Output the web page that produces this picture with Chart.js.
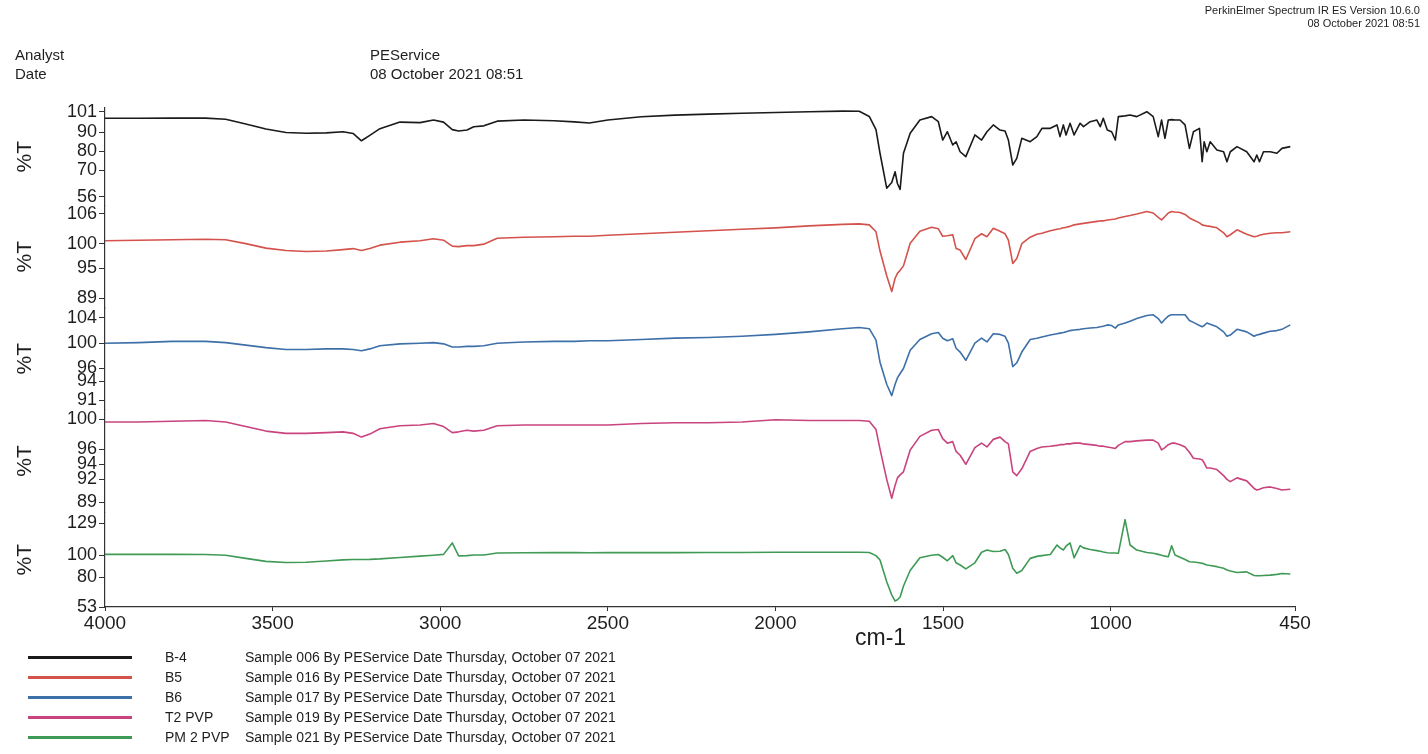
<!DOCTYPE html>
<html>
<head>
<meta charset="utf-8">
<title>PerkinElmer Spectrum IR</title>
<script src="https://cdn.jsdelivr.net/npm/chart.js@4.4.0/dist/chart.umd.min.js"></script>
<style>
body{margin:0;background:#fff;font-family:"Liberation Sans",Arial,sans-serif;color:#1e1e1e;}
#wrap{position:relative;width:1428px;height:754px;overflow:hidden;}
#chart{position:absolute;left:0;top:0;}
.t{position:absolute;white-space:nowrap;line-height:18px;}
.hd{font-size:15px;}
.pe{font-size:11px;line-height:13px;text-align:right;right:8px;}
.cm{font-size:23px;}
.lg{position:absolute;left:0;height:20px;font-size:14px;}
.lg span{position:absolute;top:0;line-height:20px;white-space:nowrap;}
.lg i{position:absolute;left:28px;width:104px;top:9px;height:3px;}
</style>
</head>
<body>
<div id="wrap">
  <canvas id="chart" width="1428" height="754"></canvas>
  <div class="t pe" style="top:4px">PerkinElmer Spectrum IR ES Version 10.6.0<br>08 October 2021 08:51</div>
  <div class="t hd" style="left:15px;top:46px">Analyst</div>
  <div class="t hd" style="left:15px;top:65px">Date</div>
  <div class="t hd" style="left:370px;top:46px">PEService</div>
  <div class="t hd" style="left:370px;top:65px">08 October 2021 08:51</div>
  <div class="t cm" style="left:855px;top:628px">cm-1</div>
  <div id="legend"></div>
</div>
<script>
// Dados
const wavenumbers=[4000,3900,3800,3700,3640,3580,3520,3460,3400,3340,3290,3260,3235,3210,3180,3120,3060,3020,2990,2964,
2945,2920,2900,2870,2830,2750,2660,2600,2555,2500,2400,2300,2200,2100,2000,1900,1800,1750,1720,1700,
1688,1668,1653,1643,1636,1628,1618,1598,
1569,1534,1514,1501,1487,1471,1461,1449,1432,1405,1385,1369,1350,
1330,1315,1305,1292,1280,1265,1240,1220,1205,1180,
1160,1151,1141,1133,1121,1109,1091,1081,1061,1041,
1031,1022,1010,997,986,977,957,942,922,892,
873,858,848,838,828,818,808,793,778,765,
753,735,727,721,713,703,683,663,653,643,
623,594,572,564,556,544,524,504,489,464];

const b4=[97.5,97.5,97.6,97.6,97.0,94.5,91.8,90.0,89.6,89.8,
90.4,89.5,85.6,88.5,92.0,95.5,95.2,96.6,95.5,91.5,
90.8,91.3,93.0,93.5,96.0,96.6,96.2,95.6,95.0,96.6,
98.3,99.2,99.7,100.2,100.6,101.0,101.3,101.2,98.5,91.5,
79.0,60.5,63.5,69.2,63.0,59.9,79.0,89.6,
96.6,98.4,95.7,86.0,90.4,83.4,85.1,79.8,77.2,88.7,86.0,90.4,94.0,
91.3,90.8,86.0,72.8,76.3,86.9,85.1,87.8,92.2,92.2,
94.0,87.8,94.0,88.7,94.9,88.7,94.9,93.1,95.7,96.6,
93.1,97.5,91.3,90.4,86.0,98.4,98.8,99.3,98.4,101.0,
98.4,87.8,96.6,86.9,96.6,96.8,96.6,96.6,94.0,81.6,
90.4,92.2,74.5,85.1,79.8,85.1,80.7,79.8,74.5,79.8,
82.5,79.8,74.5,78.1,74.5,79.8,79.8,79.0,81.6,82.5];

const b5=[100.6,100.7,100.8,100.9,100.8,100.0,99.1,98.6,98.4,98.5,
98.8,99.0,98.6,99.0,99.7,100.3,100.6,101.0,100.7,99.5,
99.4,99.6,99.6,99.9,101.1,101.3,101.4,101.5,101.5,101.7,
102.0,102.3,102.6,102.9,103.2,103.6,103.9,104.0,103.8,102.4,
98.5,93.5,90.3,93.0,94.0,94.6,95.5,100.1,
102.5,103.3,103.0,101.5,101.6,101.8,99.0,98.7,96.8,101.0,102.0,101.4,103.1,
102.5,102.0,100.7,96.0,97.0,100.0,101.3,101.9,102.1,102.6,
102.9,103.0,103.2,103.3,103.5,103.8,104.0,104.1,104.3,104.5,
104.6,104.6,104.8,104.9,105.0,105.2,105.5,105.7,106.0,106.5,
106.2,105.3,104.8,105.5,106.2,106.5,106.4,106.3,105.9,105.2,
104.8,104.2,103.8,103.7,103.6,103.5,103.2,102.2,101.4,101.8,
102.8,101.9,101.4,101.5,101.7,101.9,102.1,102.2,102.2,102.4];

const b6=[100.0,100.1,100.3,100.3,100.1,99.7,99.3,99.0,99.0,99.1,
99.1,99.0,98.8,99.1,99.6,99.9,100.0,100.1,99.9,99.4,
99.4,99.5,99.5,99.6,100.0,100.2,100.3,100.3,100.4,100.4,
100.6,100.8,100.9,101.1,101.4,101.8,102.3,102.5,102.3,100.5,
97.0,93.5,91.7,93.5,94.5,95.2,96.0,98.9,
100.6,101.5,101.7,100.8,100.4,100.7,99.2,98.6,97.3,100.0,100.8,100.2,101.5,
101.4,101.1,100.0,96.3,96.9,98.6,100.6,100.8,101.0,101.3,
101.5,101.6,101.7,101.8,102.0,102.1,102.2,102.3,102.4,102.5,
102.6,102.7,102.9,102.8,102.4,102.9,103.2,103.5,103.9,104.4,
104.5,103.9,103.2,103.8,104.3,104.5,104.5,104.5,104.5,103.6,
103.3,102.8,102.6,102.8,103.2,103.0,102.6,101.8,101.1,101.3,
102.2,101.8,101.1,101.3,101.4,101.6,101.9,102.0,102.2,102.9];

const t2pvp=[99.6,99.6,99.7,99.8,99.6,99.0,98.4,98.1,98.1,98.2,
98.3,98.1,97.6,98.0,98.7,99.1,99.2,99.4,99.0,98.2,
98.3,98.5,98.4,98.5,99.1,99.2,99.2,99.2,99.2,99.2,
99.4,99.5,99.5,99.6,99.9,99.8,99.8,99.8,99.7,98.6,
96.0,92.0,89.5,91.2,92.2,92.6,93.0,95.9,
97.7,98.5,98.6,97.4,96.8,97.0,95.7,95.2,94.0,96.2,96.8,96.3,97.3,
97.6,97.0,96.7,93.0,92.5,93.4,95.7,96.1,96.3,96.4,
96.5,96.6,96.6,96.7,96.7,96.8,96.8,96.7,96.6,96.5,
96.4,96.4,96.3,96.2,96.1,96.5,97.0,97.0,97.1,97.2,
97.2,96.8,95.9,96.2,96.6,96.8,96.8,96.6,96.3,95.6,
94.8,94.7,94.6,94.2,93.5,93.5,93.3,92.5,92.0,91.7,
92.2,91.8,90.8,90.6,90.7,90.9,91.0,90.8,90.6,90.7];

const pm2pvp=[100.6,100.6,100.6,100.5,99.8,97.0,94.3,93.2,93.5,94.6,
95.6,96.0,96.0,96.1,96.5,97.8,99.0,99.8,100.6,111.0,
99.3,99.5,100.0,100.0,101.8,102.1,102.2,102.2,102.1,102.2,
102.2,102.2,102.3,102.3,102.5,102.5,102.6,102.6,102.3,99.5,
95.5,75.9,64.0,58.4,59.5,62.0,72.0,86.0,
97.5,99.8,100.5,98.0,94.8,99.5,93.0,91.0,87.5,93.0,102.5,104.6,103.2,
103.5,105.0,100.5,88.0,83.5,86.0,97.0,98.8,99.5,100.5,
109.1,106.5,104.6,108.0,111.0,97.5,108.5,106.5,105.0,104.0,
103.5,102.8,102.1,101.9,101.8,101.6,132.0,109.1,104.5,102.3,
101.6,100.6,99.8,99.0,98.5,108.5,100.0,98.0,96.0,94.0,
93.7,93.0,92.5,92.0,91.0,90.5,89.5,88.0,86.5,85.5,
84.2,84.8,81.5,81.3,81.3,81.5,81.8,82.5,83.3,82.8];

const xTicks=[4000,3500,3000,2500,2000,1500,1000,450];
const ticksB4=[56,70,80,90,101];
const ticksB5=[89,95,100,106];
const ticksB6=[91,94,96,100,104];
const ticksT2=[89,92,94,96,100];
const ticksPM=[53,80,100,129];

const seriesNames=["B-4","B5","B6","T2 PVP","PM 2 PVP"];
const sampleNotes=["Sample 006 By PEService Date Thursday, October 07 2021",
  "Sample 016 By PEService Date Thursday, October 07 2021",
  "Sample 017 By PEService Date Thursday, October 07 2021",
  "Sample 019 By PEService Date Thursday, October 07 2021",
  "Sample 021 By PEService Date Thursday, October 07 2021"];
const seriesColors=["#1a1a1a","#d4524c","#3d6fa8","#c9447e","#3f9a55"];

// Painéis empilhados (um eixo y por amostra)
const panels=[
  {id:"y1",data:b4,ticks:ticksB4,min:51.45,max:102.96,h:97.3},
  {id:"y2",data:b5,ticks:ticksB5,min:86.98,max:107.76,h:102.7},
  {id:"y3",data:b6,ticks:ticksB6,min:89.5,max:105.58,h:101.5},
  {id:"y4",data:t2pvp,ticks:ticksT2,min:87.61,max:101.26,h:103},
  {id:"y5",data:pm2pvp,ticks:ticksPM,min:53,max:138.5,h:94.5}
];

const scales={
  x:{type:"linear",reverse:true,min:450,max:4000,
    afterBuildTicks:s=>{s.ticks=xTicks.map(v=>({value:v}));},
    afterFit:s=>{s.height=40;},
    ticks:{autoSkip:false,maxRotation:0,color:"#1e1e1e",padding:1,font:{size:19,family:"Liberation Sans"},callback:v=>String(v)},
    grid:{drawOnChartArea:false,tickLength:4,color:"#333"},
    border:{color:"#333",width:1.2}}
};
const datasets=[];
panels.forEach((p,i)=>{
  scales[p.id]={type:"linear",position:"left",stack:"ir",stackWeight:p.h,weight:5-i,min:p.min,max:p.max,
    afterBuildTicks:s=>{s.ticks=p.ticks.map(v=>({value:v}));},
    afterFit:s=>{s.width=105;},
    ticks:{autoSkip:false,color:"#1e1e1e",padding:2,font:{size:18,family:"Liberation Sans"},callback:v=>String(v)},
    grid:{drawOnChartArea:false,tickLength:6,color:"#333"},
    border:{color:"#333",width:1.2},
    title:{display:true,text:"%T",color:"#1e1e1e",font:{size:21,family:"Liberation Sans"},padding:{top:13,bottom:0}}};
  datasets.push({label:seriesNames[i],yAxisID:p.id,borderColor:seriesColors[i],borderWidth:1.6,
    pointRadius:0,tension:0,borderJoinStyle:"round",
    data:wavenumbers.map((w,k)=>({x:w,y:p.data[k]}))});
});

new Chart(document.getElementById("chart"),{
  type:"line",
  data:{datasets},
  options:{responsive:false,animation:false,devicePixelRatio:1,
    layout:{padding:{left:0,right:133,top:108,bottom:107}},
    scales,
    plugins:{legend:{display:false},tooltip:{enabled:false}}}
});

// Legenda
const lg=document.getElementById("legend");
seriesNames.forEach((n,i)=>{
  lg.innerHTML+=`<div class="lg" style="top:${647+i*20}px"><i style="background:${seriesColors[i]}"></i><span style="left:165px">${n}</span><span style="left:245px">${sampleNotes[i]}</span></div>`;
});
</script>
</body>
</html>
